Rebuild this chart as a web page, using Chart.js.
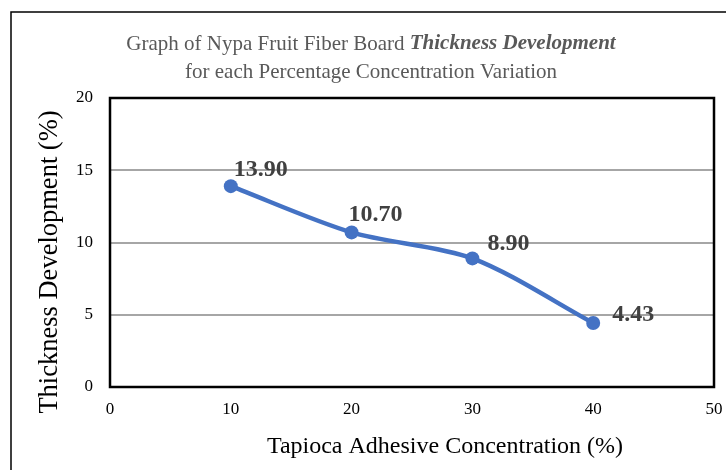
<!DOCTYPE html>
<html>
<head>
<meta charset="utf-8">
<script src="https://cdn.jsdelivr.net/npm/chart.js@4.4.1/dist/chart.umd.min.js"></script>
<style>
    body { margin: 0; background: #fff; overflow: hidden; }
    #wrap { width: 726px; height: 470px; }
    #graficoEspesor { display: block; }
</style>
</head>
<body>
<div id="wrap"><canvas id="graficoEspesor"></canvas></div>
<script>
// ------------------------------------------------ DATOS ------------------------------------------------

    const concentracion = [10, 20, 30, 40];
    const espesor = [13.90, 10.70, 8.90, 4.43];
    const ticksX = [0, 10, 20, 30, 40, 50];
    const ticksY = [0, 5, 10, 15, 20];

    const tituloNormal = 'Graph of Nypa Fruit Fiber Board ';
    const tituloNegrita = 'Thickness Development';
    const tituloLinea2 = 'for each Percentage Concentration Variation';
    const tituloEjeX = 'Tapioca Adhesive Concentration (%)';
    const tituloEjeY = 'Thickness Development (%)';

    const serif = '"Liberation Serif", "Times New Roman", serif';

// ------------------------------------------------ PLUGIN DE DIBUJO ------------------------------------------------

    // marco exterior, caja del area, titulos y etiquetas de datos
    const decoracion = {
        id: 'decoracion',
        beforeDraw(chart) {
            const ctx = chart.ctx;
            ctx.save();
            ctx.strokeStyle = '#000';
            ctx.lineWidth = 1.5;
            ctx.strokeRect(11, 12, 900, 700);
            ctx.restore();
        },
        beforeDatasetsDraw(chart) {
            const ctx = chart.ctx;
            const a = chart.chartArea;
            ctx.save();
            ctx.strokeStyle = '#000';
            ctx.lineWidth = 2.5;
            ctx.strokeRect(a.left, a.top, a.right - a.left, a.bottom - a.top);
            ctx.restore();
        },
        afterDatasetsDraw(chart, args, opts) {
            const ctx = chart.ctx;
            ctx.save();

            // titulo, primera linea con parte en negrita cursiva
            ctx.fillStyle = '#595959';
            ctx.textBaseline = 'middle';
            ctx.textAlign = 'left';
            const fNormal = '21px ' + serif;
            const fNegrita = 'italic bold 21px ' + serif;
            ctx.font = fNormal;
            const w1 = ctx.measureText(tituloNormal).width;
            ctx.font = fNegrita;
            const w2 = ctx.measureText(tituloNegrita).width;
            let x = opts.tituloX - (w1 + w2) / 2;
            ctx.font = fNormal;
            ctx.fillText(tituloNormal, x, 44);
            ctx.font = fNegrita;
            ctx.fillText(tituloNegrita, x + w1, 44);
            ctx.font = fNormal;
            ctx.textAlign = 'center';
            ctx.fillText(tituloLinea2, opts.tituloX, 72);

            // titulos de ejes
            ctx.fillStyle = '#000';
            ctx.font = '24px ' + serif;
            ctx.fillText(tituloEjeX, 445, 447);
            ctx.save();
            ctx.translate(50, 262);
            ctx.rotate(-Math.PI / 2);
            ctx.font = '26.5px ' + serif;
            ctx.fillText(tituloEjeY, 0, 0);
            ctx.restore();

            // etiquetas de datos
            const meta = chart.getDatasetMeta(0);
            ctx.fillStyle = '#404040';
            ctx.font = 'bold 24px ' + serif;
            ctx.textAlign = 'left';
            meta.data.forEach((p, i) => {
                const d = opts.desplazamientos[i];
                ctx.fillText(espesor[i].toFixed(2), p.x + d[0], p.y + d[1]);
            });
            ctx.restore();
        }
    };

// ------------------------------------------------ GRAFICO ------------------------------------------------

    const configEspesor = {
        type: 'line',
        data: {
            datasets: [{
                label: 'Thickness Development',
                data: concentracion.map((c, i) => ({ x: c, y: espesor[i] })),
                borderColor: '#4472C4',
                backgroundColor: '#4472C4',
                borderWidth: 4.5,
                pointRadius: 7,
                pointHoverRadius: 7,
                pointBorderWidth: 0,
                tension: 0.3
            }]
        },
        options: {
            responsive: true,
            maintainAspectRatio: false,
            animation: false,
            layout: {
                padding: { top: 98, right: 12, left: 0, bottom: 0 }
            },
            plugins: {
                legend: { display: false },
                tooltip: { enabled: false },
                decoracion: {
                    tituloX: 371,
                    desplazamientos: [[3, -16], [-3, -18], [15, -15], [19, -8]]
                }
            },
            scales: {
                x: {
                    type: 'linear',
                    min: 0,
                    max: 50,
                    afterBuildTicks: s => { s.ticks = ticksX.map(v => ({ value: v })); },
                    afterFit: s => {
                        s.height = 83;
                        s.paddingLeft = 0;
                        s.paddingRight = 0;
                    },
                    grid: { display: false, drawTicks: false },
                    border: { display: false },
                    ticks: {
                        padding: 12,
                        color: '#000',
                        font: { size: 17, family: serif }
                    }
                },
                y: {
                    min: 0,
                    max: 20,
                    afterBuildTicks: s => { s.ticks = ticksY.map(v => ({ value: v })); },
                    afterFit: s => { s.width = 110; },
                    grid: {
                        drawTicks: false,
                        color: '#a6a6a6',
                        lineWidth: 2
                    },
                    border: { display: false },
                    ticks: {
                        padding: 17,
                        color: '#000',
                        font: { size: 17, family: serif }
                    }
                }
            }
        },
        plugins: [decoracion]
    };

    var espesorChart = new Chart(
        document.getElementById('graficoEspesor'),
        configEspesor
    );
</script>
</body>
</html>
